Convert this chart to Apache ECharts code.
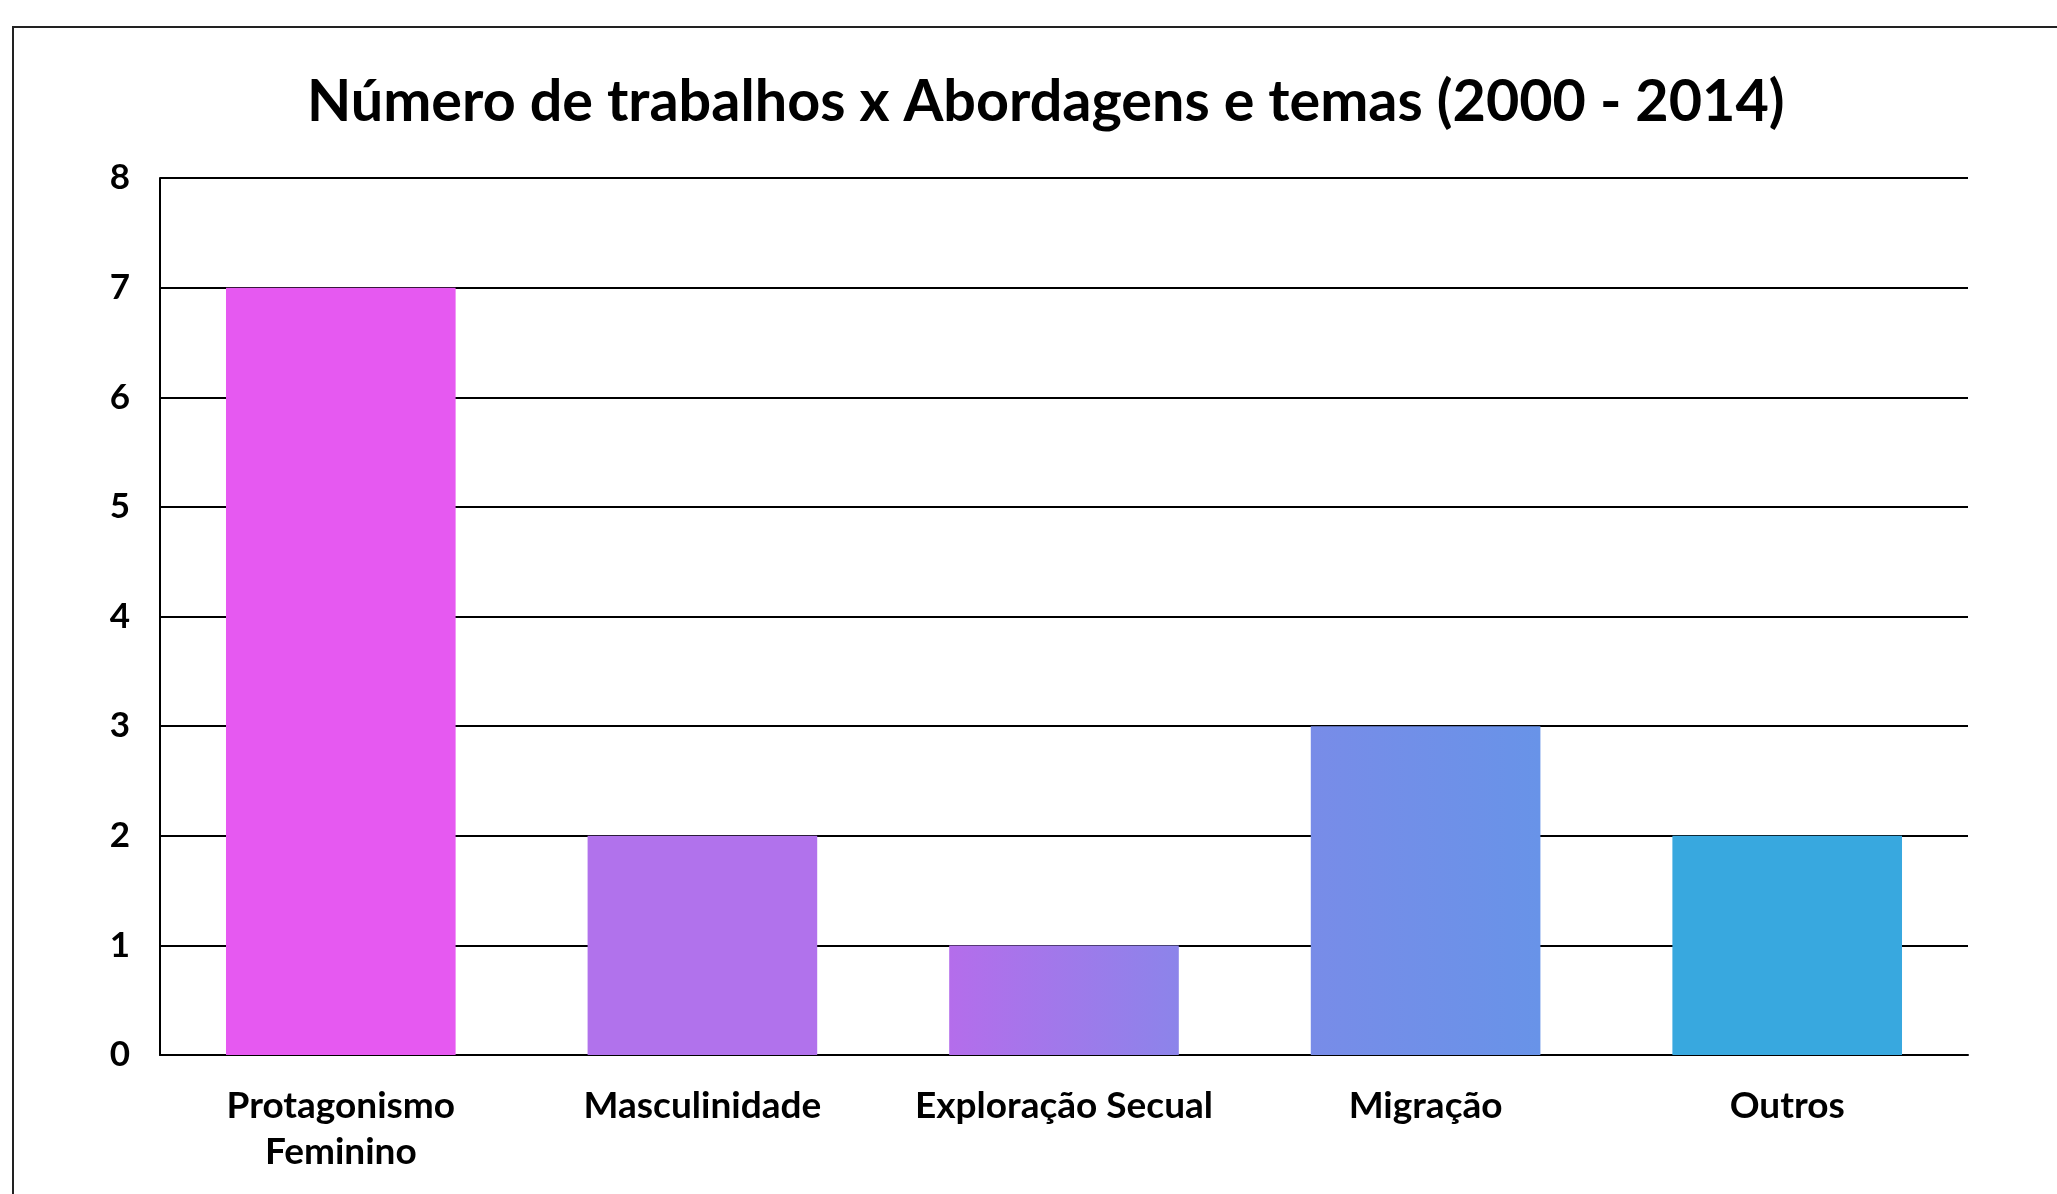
<!DOCTYPE html>
<html>
<head>
<meta charset="utf-8">
<script src="https://cdn.jsdelivr.net/npm/echarts@6/dist/echarts.min.js"></script>
<style>
  html, body { margin: 0; padding: 0; background: #fff; }
  #chart { width: 2057px; height: 1194px; }
</style>
</head>
<body>
<div id="chart"></div>
<script>
// categorias e valores
const categories = ['Protagonismo\nFeminino', 'Masculinidade', 'Exploração Secual', 'Migração', 'Outros'];
const counts = [7, 2, 1, 3, 2];
const yTicks = [0, 1, 2, 3, 4, 5, 6, 7, 8];

const font = 'Lato';

// cor de cada barra (as duas do meio com leve degradê horizontal)
const barColors = [
  '#e659f1',
  '#b172ec',
  { type: 'linear', x: 0, y: 0, x2: 1, y2: 0, colorStops: [{ offset: 0, color: '#b46deb' }, { offset: 1, color: '#8c84ea' }] },
  { type: 'linear', x: 0, y: 0, x2: 1, y2: 0, colorStops: [{ offset: 0, color: '#788ce8' }, { offset: 1, color: '#6893e8' }] },
  '#38a8df'
];

const chart = echarts.init(document.getElementById('chart'));

chart.setOption({
  backgroundColor: '#fff',
  animation: false,
  title: {
    text: 'Número de trabalhos x Abordagens e temas (2000 - 2014)',
    left: 302,
    top: 68,
    textStyle: { fontFamily: font, fontWeight: 'bold', fontSize: 57.5, color: '#000' }
  },
  graphic: [{
    type: 'rect',
    shape: { x: 13, y: 27, width: 2100, height: 1300 },
    style: { fill: 'none', stroke: '#222', lineWidth: 2 },
    z: -1
  }],
  grid: { left: 160, right: 89, top: 178, bottom: 139 },
  xAxis: {
    type: 'category',
    data: categories,
    axisLine: { show: true, lineStyle: { color: '#000', width: 2 } },
    axisTick: { show: false },
    axisLabel: {
      interval: 0,
      hideOverlap: false,
      margin: 28,
      fontFamily: font, fontWeight: 'bold', fontSize: 37, color: '#000', lineHeight: 46
    }
  },
  yAxis: {
    type: 'value',
    min: yTicks[0],
    max: yTicks[yTicks.length - 1],
    interval: 1,
    axisLine: { show: true, lineStyle: { color: '#000', width: 2 } },
    axisTick: { show: false },
    splitLine: { show: true, lineStyle: { color: '#000', width: 2 } },
    axisLabel: {
      margin: 30,
      fontFamily: font, fontWeight: 'bold', fontSize: 35, color: '#000'
    }
  },
  series: [{
    type: 'bar',
    barWidth: '63.5%',
    data: counts.map((v, i) => ({ value: v, itemStyle: { color: barColors[i] } }))
  }]
});
</script>
</body>
</html>
